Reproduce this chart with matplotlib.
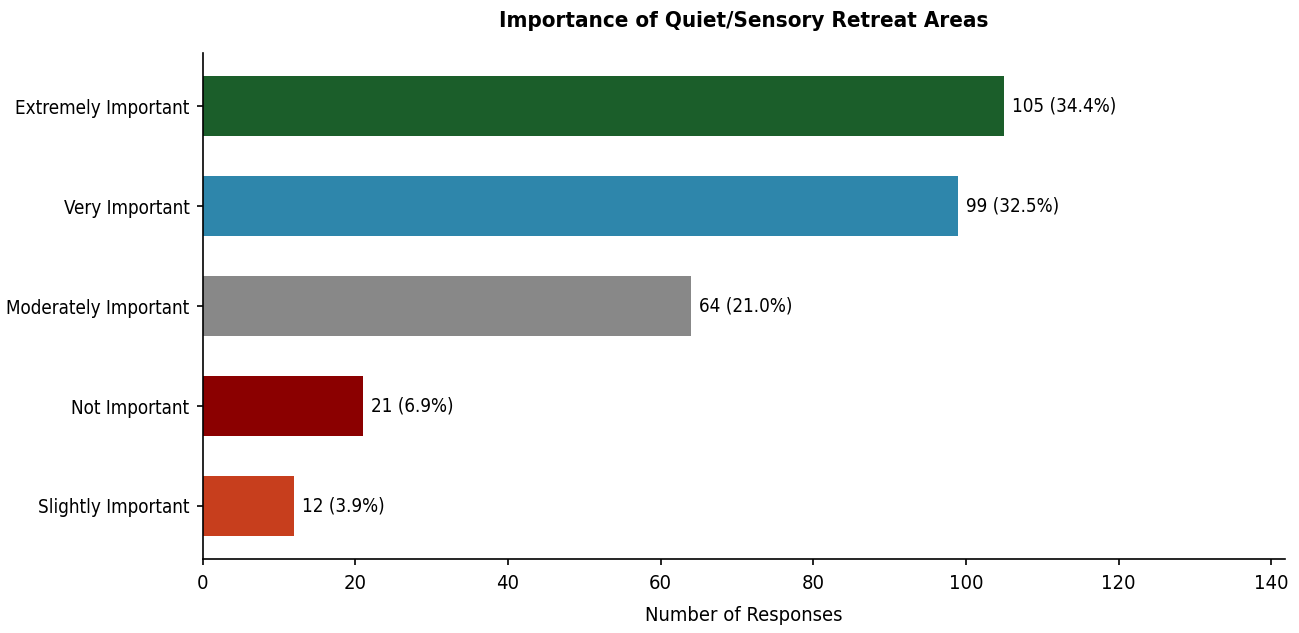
import matplotlib
matplotlib.use('Agg')
import matplotlib.pyplot as plt
from matplotlib import font_manager

# use condensed DejaVu if it is there
names = [f.name for f in font_manager.fontManager.ttflist]
if 'DejaVu Sans Condensed' in names:
    plt.rcParams['font.family'] = ['DejaVu Sans Condensed', 'DejaVu Sans']
else:
    plt.rcParams['font.family'] = ['DejaVu Sans']
    plt.rcParams['font.stretch'] = 'condensed'

##DATA
categories = ['Slightly Important', 'Not Important', 'Moderately Important',
              'Very Important', 'Extremely Important']
counts = [12, 21, 64, 99, 105]
percents = [3.9, 6.9, 21.0, 32.5, 34.4]
colors = ['#C73E1D', '#8B0000', '#888888', '#2E86AB', '#1B5E2A']

##PLOT
fig, ax = plt.subplots(figsize=(12.99, 6.33), dpi=100)
bars = ax.barh(categories, counts, height=0.6, color=colors)

for bar, c, p in zip(bars, counts, percents):
    ax.text(bar.get_width() + 1, bar.get_y() + bar.get_height() / 2,
            f'{c} ({p:.1f}%)', va='center', ha='left', fontsize=13.5)

ax.set_xlim(0, max(counts) * 1.35)
ax.set_xlabel('Number of Responses', fontsize=14.5, labelpad=10)
ax.set_title('Importance of Quiet/Sensory Retreat Areas', fontsize=16,
             fontweight='bold', pad=19)
ax.tick_params(axis='both', labelsize=13.5, width=1.2, length=4.5)
ax.tick_params(axis='x', labelsize=14.5, pad=6)
ax.tick_params(axis='y', pad=5)
ax.spines['top'].set_visible(False)
ax.spines['right'].set_visible(False)
ax.spines['left'].set_linewidth(1.2)
ax.spines['bottom'].set_linewidth(1.2)

plt.subplots_adjust(left=0.156, right=0.989, top=0.916, bottom=0.117)
plt.savefig('out.png', dpi=100)
